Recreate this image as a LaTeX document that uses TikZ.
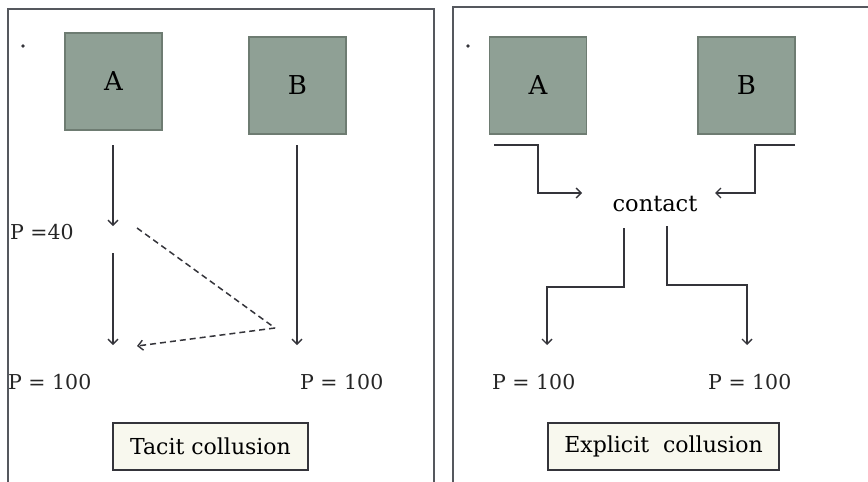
\documentclass[tikz,border=0pt]{standalone}
\usepackage{fontspec}
\setmainfont{DejaVu Serif}
\usetikzlibrary{arrows.meta}
\definecolor{firmfill}{HTML}{8FA095}
\definecolor{firmedge}{HTML}{6E7C72}
\definecolor{frameclr}{HTML}{55585E}
\definecolor{lineclr}{HTML}{34343A}
\definecolor{labelfill}{HTML}{F8F8EE}
\begin{document}
\begin{tikzpicture}[x=1pt,y=-1pt,
  firm/.style={draw=firmedge,line width=1.3pt,fill=firmfill,minimum width=97pt,minimum height=97pt,inner sep=0pt,font=\fontsize{26}{30}\selectfont},
  panel/.style={draw=frameclr,line width=2pt},
  tip/.style={-{Straight Barb[length=5pt,width=10pt,line width=1.4pt]}},
  flow/.style={draw=lineclr,line width=1.6pt,tip},
  hint/.style={draw=lineclr,line width=1.5pt,dash pattern=on 6pt off 4pt},
  price/.style={inner sep=0pt,text=black!85,font=\fontsize{20.5}{24}\selectfont},
  caption/.style={draw=lineclr,line width=1.4pt,fill=labelfill,minimum height=47pt,inner sep=0pt,font=\fontsize{22}{26}\selectfont},
  dotmark/.style={circle,fill=lineclr,inner sep=0pt,minimum size=3.6pt}]
\useasboundingbox (0,0) rectangle (868,482);
\begin{scope}
\clip (0,0) rectangle (868,482);
% panel frames, open at the lower and right edges of the page
\draw[panel] (8,495) -- (8,9) -- (434,9) -- (434,495);
\draw[panel] (453,495) -- (453,7) -- (875,7);

% ---- tacit collusion ----
\node[dotmark] (d1) at (23,46) {};
\node[firm] (tA) at (113.5,81.5) {A};
\node[firm] (tB) at (297.5,85.5) {B};
\node[price,anchor=west] (p40) at (10,232) {P =40};
\node[price,anchor=west] (tpa) at (8,382) {P = 100};
\node[price,anchor=west] (tpb) at (300,382) {P = 100};
\coordinate (ta1) at (113,145);
\coordinate (ta2) at (113,226);
\coordinate (ta3) at (113,253);
\coordinate (ta4) at (113,345);
\coordinate (tb1) at (297,145);
\coordinate (tb2) at (297,345);
\coordinate (h1) at (137,228);
\coordinate (h2) at (275,328);
\coordinate (h3) at (137,346);
\draw[flow] (ta1) -- (ta2);
\draw[flow] (ta3) -- (ta4);
\draw[flow] (tb1) -- (tb2);
\draw[hint] (h1) -- (h2);
\draw[hint,tip] (h2) -- (h3);
\node[caption,minimum width=195pt] (tacit) at (210.5,446.5) {Tacit collusion};

% ---- explicit collusion ----
\node[dotmark] (d2) at (468,46) {};
\node[firm] (eA) at (538,85.5) {A};
\node[firm] (eB) at (746.5,85.5) {B};
\node[inner sep=0pt,font=\fontsize{22.5}{26}\selectfont] (contact) at (655,204) {contact};
\node[price,anchor=west] (epa) at (492,382) {P = 100};
\node[price,anchor=west] (epb) at (708,382) {P = 100};
\coordinate (ea1) at (494,145);
\coordinate (ea2) at (582,193);
\coordinate (eb1) at (795,145);
\coordinate (eb2) at (715,193);
\coordinate (ec1) at (624,228);
\coordinate (ec2) at (547,345);
\coordinate (ed1) at (667,226);
\coordinate (ed2) at (747,345);
\draw[flow] (ea1) -- (538,145) -- (538,193) -- (ea2);
\draw[flow] (eb1) -- (755,145) -- (755,193) -- (eb2);
\draw[flow] (ec1) -- (624,287) -- (547,287) -- (ec2);
\draw[flow] (ed1) -- (667,285) -- (747,285) -- (ed2);
\node[caption,minimum width=231pt] (explicit) at (663.5,446.5) {Explicit\ \ collusion};
\end{scope}
\end{tikzpicture}
\end{document}
